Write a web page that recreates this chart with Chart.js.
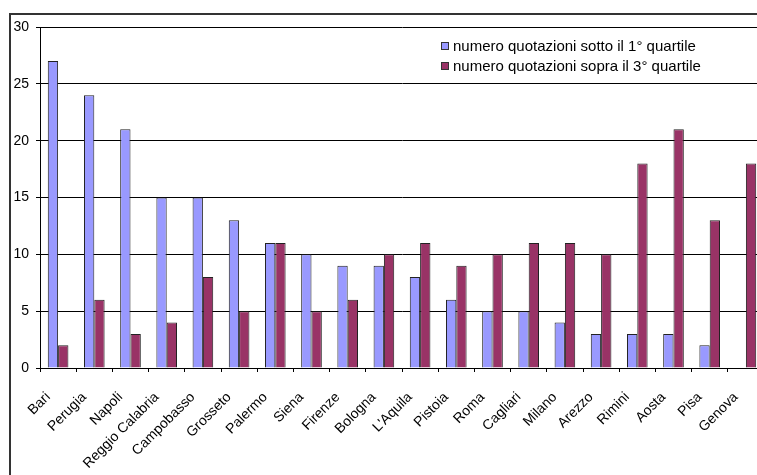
<!DOCTYPE html>
<html>
<head>
<meta charset="utf-8">
<script src="https://cdn.jsdelivr.net/npm/chart.js@4.4.1/dist/chart.umd.min.js"></script>
<style>
  html, body { margin: 0; padding: 0; background: #fff; overflow: hidden; }
  #frame { position: absolute; left: 9px; top: 13px; width: 820px; height: 520px; border: 2px solid #333; }
  #wrap { position: absolute; left: 0; top: 0; width: 790px; height: 500px; }
</style>
</head>
<body>
<div id="frame"></div>
<div id="wrap"><canvas id="chart" width="790" height="500"></canvas></div>
<script>
const cities = ['Bari', 'Perugia', 'Napoli', 'Reggio Calabria', 'Campobasso', 'Grosseto', 'Palermo',
  'Siena', 'Firenze', 'Bologna', "L'Aquila", 'Pistoia', 'Roma', 'Cagliari', 'Milano', 'Arezzo',
  'Rimini', 'Aosta', 'Pisa', 'Genova'];
const sottoPrimo = [27, 24, 21, 15, 15, 13, 11, 10, 9, 9, 8, 6, 5, 5, 4, 3, 3, 3, 2, 0];
const sopraTerzo = [2, 6, 3, 4, 8, 5, 11, 5, 6, 10, 11, 9, 10, 11, 11, 10, 18, 21, 13, 18];
const seriesNames = ['numero quotazioni sotto il 1° quartile', 'numero quotazioni sopra il 3° quartile'];
const yTicks = [0, 5, 10, 15, 20, 25, 30];

Chart.defaults.font.family = '"Liberation Sans", Arial, sans-serif';
Chart.defaults.font.size = 14;
Chart.defaults.color = '#000';

// legend drawn inside the plot, top right
const boxLegend = {
  id: 'boxLegend',
  afterDraw(chart) {
    const ctx = chart.ctx;
    ctx.save();
    ctx.font = '15px "Liberation Sans", Arial, sans-serif';
    ctx.textBaseline = 'middle';
    chart.data.datasets.forEach((ds, i) => {
      const y = 46 + i * 20;
      ctx.fillStyle = ds.backgroundColor;
      ctx.fillRect(441, y - 4, 8, 8);
      ctx.strokeStyle = '#333';
      ctx.lineWidth = 1;
      ctx.strokeRect(441.5, y - 3.5, 7, 7);
      ctx.fillStyle = '#000';
      ctx.fillText(ds.label, 453, y + 1);
    });
    ctx.restore();
  }
};

new Chart(document.getElementById('chart'), {
  type: 'bar',
  data: {
    labels: cities,
    datasets: [
      { label: seriesNames[0], data: sottoPrimo, backgroundColor: '#9999FF', borderColor: '#222', borderWidth: 1 },
      { label: seriesNames[1], data: sopraTerzo, backgroundColor: '#993366', borderColor: '#222', borderWidth: 1 }
    ]
  },
  options: {
    responsive: false,
    animation: false,
    layout: { padding: { left: 0, top: 27, right: 26, bottom: 0 } },
    datasets: { bar: { categoryPercentage: 0.57, barPercentage: 1.0 } },
    plugins: { legend: { display: false }, tooltip: { enabled: false } },
    scales: {
      x: {
        afterFit: s => { s.height = 132; },
        grid: { drawOnChartArea: false, color: '#000', tickLength: 4 },
        border: { color: '#000', width: 1 },
        ticks: { autoSkip: false, maxRotation: 45, minRotation: 45, padding: 17, labelOffset: -10 }
      },
      y: {
        min: 0,
        max: 30,
        afterFit: s => { s.width = 40; },
        afterBuildTicks: s => { s.ticks = yTicks.map(v => ({ value: v })); },
        grid: { color: '#000', lineWidth: 1, tickLength: 4 },
        border: { color: '#000', width: 1 },
        ticks: { padding: 7 }
      }
    }
  },
  plugins: [boxLegend]
});
</script>
</body>
</html>
